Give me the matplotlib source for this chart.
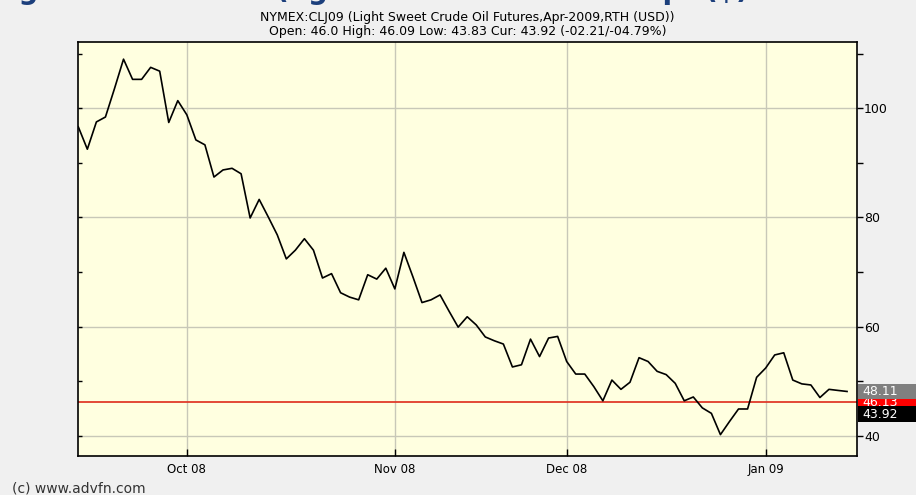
import numpy as np
import matplotlib
matplotlib.use('Agg')
import matplotlib.pyplot as plt
import matplotlib.transforms as mtransforms
from matplotlib.patches import Rectangle

# Daily closes, CLJ09, mid-Sep 2008 to mid-Jan 2009 (trading days)
prices = [96.6, 92.5, 97.5, 98.4, 103.6, 109.0, 105.3, 105.3, 107.5, 106.8,
          97.4, 101.4, 98.8, 94.2, 93.3, 87.4, 88.7, 89.0, 88.0, 79.9,
          83.3, 80.1, 76.8, 72.4, 74.0, 76.1, 74.0, 68.9, 69.7, 66.2,
          65.4, 64.9, 69.5, 68.7, 70.7, 66.9, 73.6, 69.1, 64.4, 64.9,
          65.8, 62.8, 59.9, 61.8, 60.3, 58.1, 57.4, 56.8, 52.6, 53.0,
          57.7, 54.5, 57.9, 58.2, 53.6, 51.3, 51.3, 49.0, 46.4, 50.2,
          48.5, 49.8, 54.3, 53.6, 51.8, 51.2, 49.6, 46.4, 47.1, 45.1,
          44.1, 40.2, 42.6, 44.9, 44.9, 50.7, 52.4, 54.8, 55.2, 50.2,
          49.5, 49.3, 47.0, 48.5, 48.3, 48.11]

month_ticks = [12, 35, 54, 76]
month_labels = ['Oct 08', 'Nov 08', 'Dec 08', 'Jan 09']
y_major = [40, 60, 80, 100]
y_minor = [50, 70, 90, 110]

prev_close = 46.13
last_close = 48.11
cur_price = 43.92

title1 = 'NYMEX:CLJ09 (Light Sweet Crude Oil Futures,Apr-2009,RTH (USD))'
title2 = 'Open: 46.0 High: 46.09 Low: 43.83 Cur: 43.92 (-02.21/-04.79%)'

W, H = 916, 495
fig = plt.figure(figsize=(W / 100, H / 100), dpi=100, facecolor='#f0f0f0')
ax_l, ax_r, ax_b, ax_t = 78.3, 857, 455.7, 41.7
ax = fig.add_axes([ax_l / W, 1 - ax_b / H, (ax_r - ax_l) / W, (ax_b - ax_t) / H])
ax.set_facecolor('#ffffe0')

x = np.arange(len(prices))
ax.plot(x, prices, color='black', lw=1.2, zorder=3)
ax.axhline(prev_close, color='#e03a2a', lw=1.3, zorder=2)

ax.set_xlim(0, 86.1)
ax.set_ylim(36.34, 112.2)
ax.set_xticks(month_ticks)
ax.set_xticklabels(month_labels)
ax.set_yticks(y_major)
ax.set_yticks(y_minor, minor=True)
ax.grid(True, which='major', color='#c8c8b8', lw=1, zorder=1)
ax.tick_params(axis='x', direction='in', length=5, width=1, pad=5, labelsize=8.5, colors='black')
ax.tick_params(axis='y', which='both', direction='in', length=3, width=1,
               left=True, right=False, labelleft=False)
for s in ax.spines.values():
    s.set_color('black')
    s.set_linewidth(1.2)

ax2 = ax.twinx()
ax2.set_ylim(ax.get_ylim())
ax2.set_yticks(y_major)
ax2.set_yticks(y_minor, minor=True)
ax2.tick_params(axis='y', which='both', direction='out', length=4, width=1,
                pad=1, labelsize=9, colors='black')
for s in ax2.spines.values():
    s.set_visible(False)

# price labels on the right axis
tr = mtransforms.blended_transform_factory(ax.transAxes, ax.transData)
bx0 = (858 - ax_l) / (ax_r - ax_l)
bw = (W - 858 + 2) / (ax_r - ax_l)
half = 1.45
for val, col, z in [(prev_close, '#ff0000', 4), (last_close, '#808080', 6), (cur_price, '#000000', 6)]:
    ax2.add_patch(Rectangle((bx0, val - half), bw, 2 * half, transform=tr,
                            facecolor=col, edgecolor='none', clip_on=False, zorder=z))
    ax2.text(bx0 + 0.005, val, f'{val:.2f}', transform=tr, color='white', fontsize=9,
             va='center', ha='left', clip_on=False, zorder=z + 1)

cx = (ax_l + ax_r) / 2 / W
fig.text(cx, 1 - 17 / H, title1, ha='center', va='center', fontsize=9)
fig.text(cx, 1 - 32 / H, title2, ha='center', va='center', fontsize=9)
fig.text(12 / W, 1 - 488 / H, '(c) www.advfn.com', ha='left', va='center', fontsize=10, color='#333333')

# heading of the page, cut off at the top edge
hy = 1 + 1.5 / H
for hx, word in [(-10, 'Figure 3: Crude oil'), (276, '(light sweet crude'),
                 (642, 'Apr'), (705, '($)')]:
    fig.text(hx / W, hy, word, ha='left', va='baseline', fontsize=20,
             fontweight='bold', color='#1c3f7c')

fig.savefig('out.png', dpi=100, facecolor=fig.get_facecolor())
